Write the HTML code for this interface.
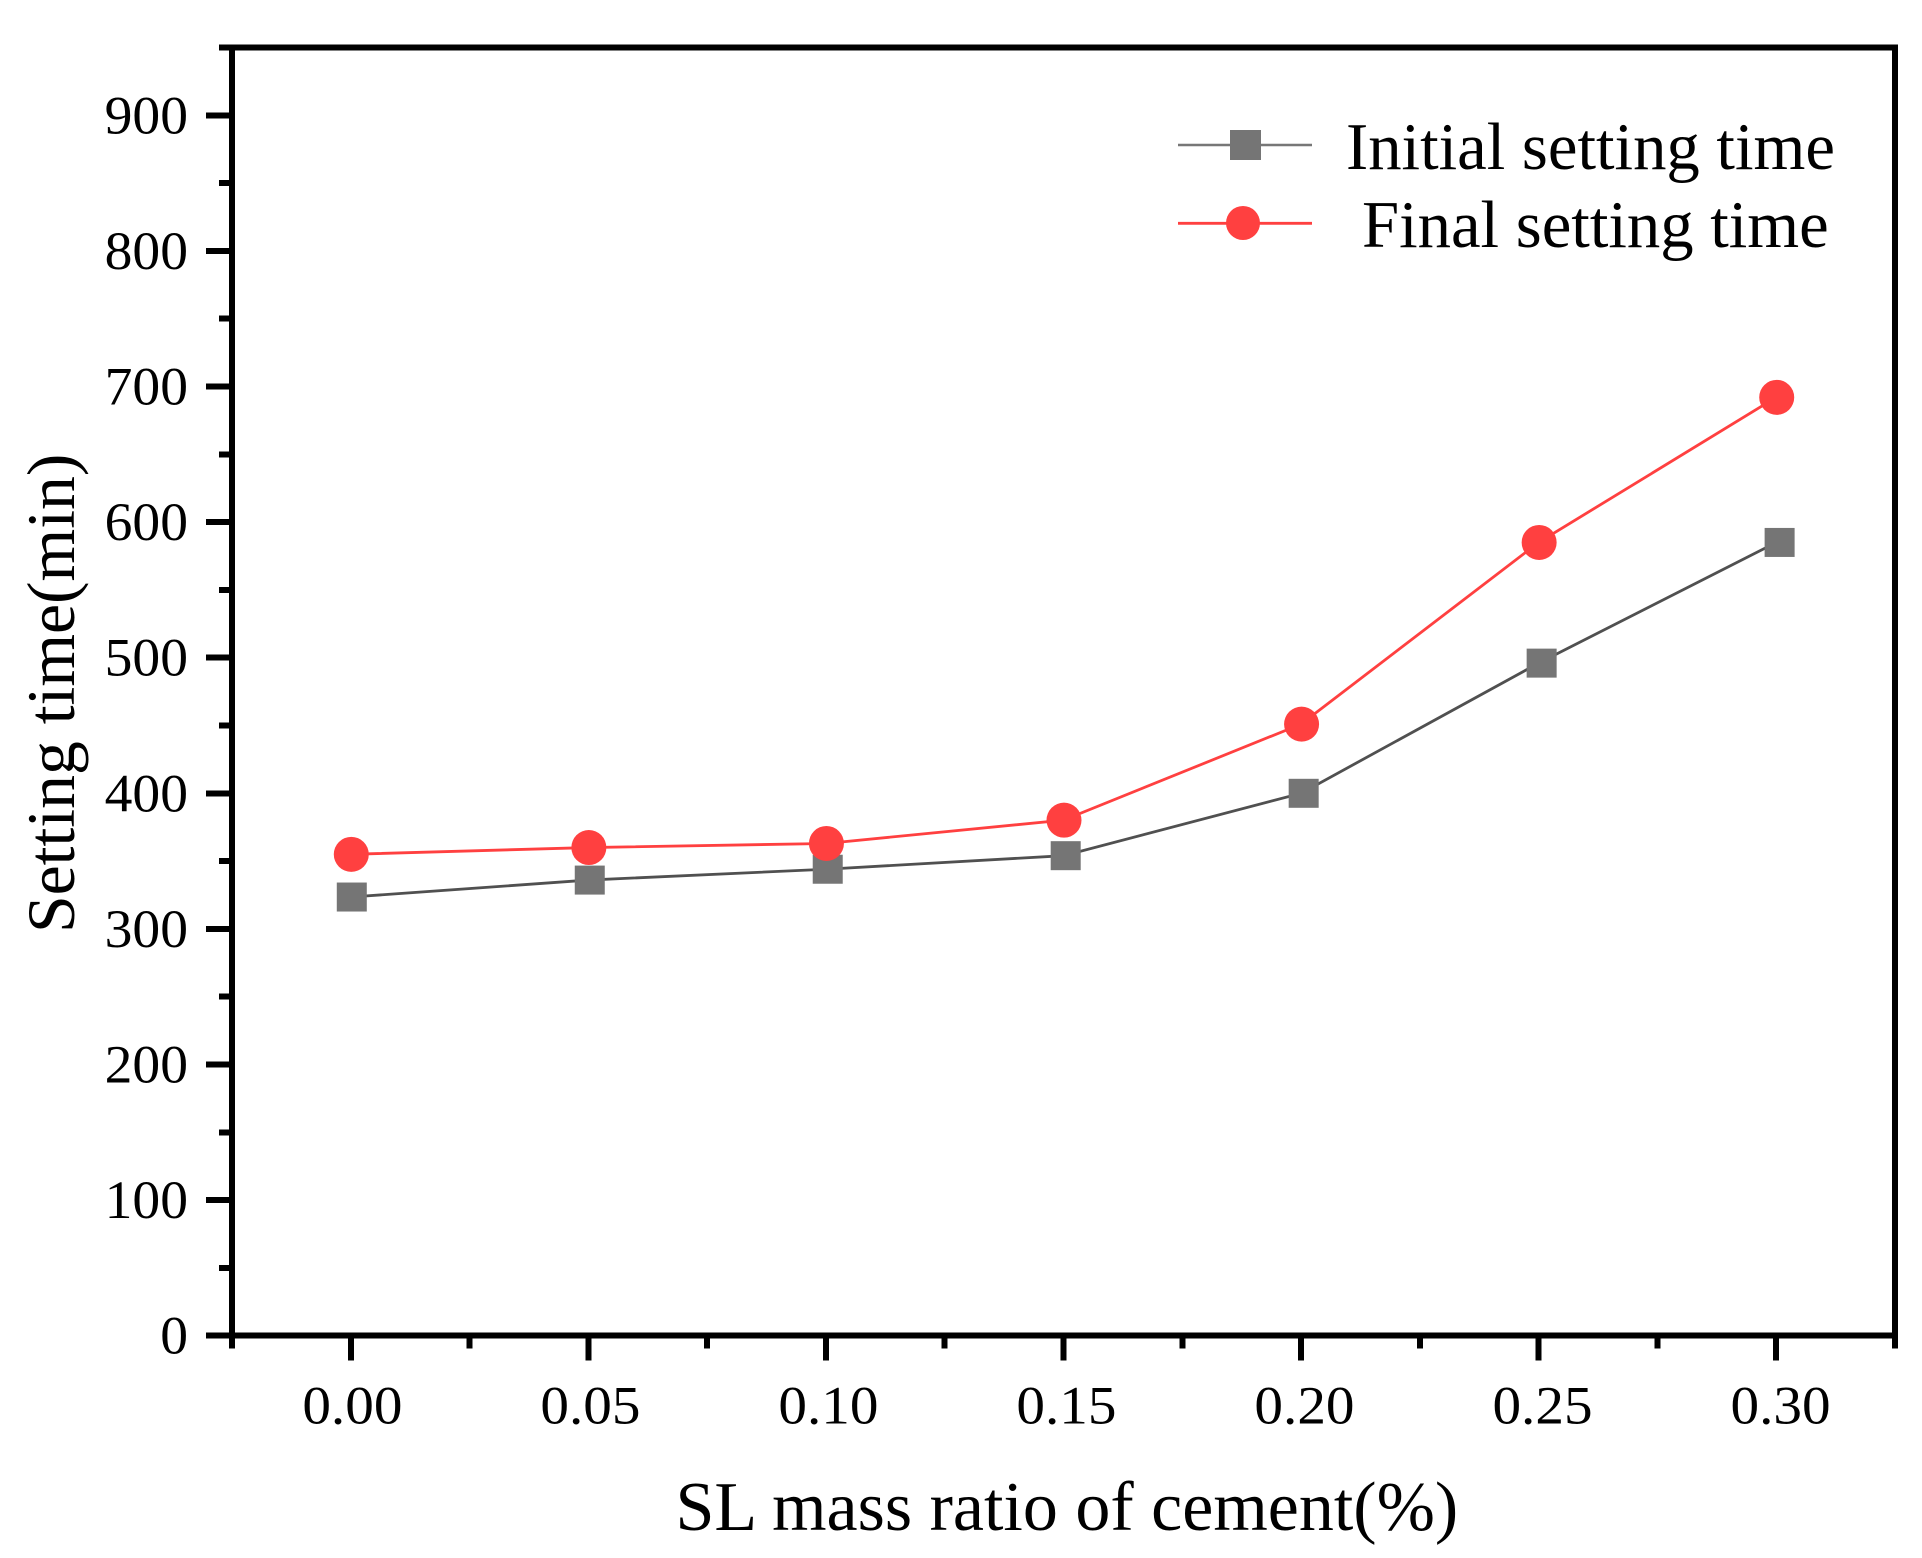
<!DOCTYPE html>
<html lang="en">
<head>
<meta charset="utf-8">
<title>Setting time vs SL mass ratio</title>
<style>
  html, body { margin: 0; padding: 0; background: #fff; }
  svg { display: block; font-family: "Liberation Serif", serif; fill: #000; }
</style>
</head>
<body>
<svg id="chart" xmlns="http://www.w3.org/2000/svg" width="1922" height="1558" viewBox="0 0 1922 1558">
  <rect x="0" y="0" width="1922" height="1558" fill="#ffffff"/>
  <g id="series-layer"></g>
  <g id="axes-layer"></g>
  <text x="675.5" y="1530" font-size="70">SL mass ratio of cement(%)</text>
  <text transform="translate(74 933) rotate(-90)" font-size="67.7">Setting time(min)</text>
  <g>
    <g>
      <line x1="1178" y1="145" x2="1312" y2="145" stroke="#777777" stroke-width="2.4"/>
      <rect x="1230" y="130" width="31" height="30" fill="#757575"/>
      <text x="1346" y="169" font-size="66.7">Initial setting time</text>
    </g>
    <g>
      <line x1="1178" y1="223.3" x2="1312" y2="223.3" stroke="#ff4040" stroke-width="2.8"/>
      <circle cx="1243" cy="223" r="17" fill="#ff4040"/>
      <text x="1362" y="247" font-size="66.7">Final setting time</text>
    </g>
  </g>
</svg>
<script>
const xCategories = [0.00, 0.05, 0.10, 0.15, 0.20, 0.25, 0.30];
const initialSettingTime = [323.5, 336, 344, 354, 400, 496, 585];
const finalSettingTime = [355, 360, 363, 380.2, 451, 585, 692];
const xTickLabels = ["0.00", "0.05", "0.10", "0.15", "0.20", "0.25", "0.30"];
const yTickValues = [0, 100, 200, 300, 400, 500, 600, 700, 800, 900];

const SVG_NS = "http://www.w3.org/2000/svg";
const plot = { left: 232, right: 1895, top: 47.5, bottom: 1335.7 };
const xDomain = [-0.025, 0.325];
const yDomain = [0, 950];

function xScale(v) {
  return plot.left + (v - xDomain[0]) / (xDomain[1] - xDomain[0]) * (plot.right - plot.left);
}
function yScale(v) {
  return plot.bottom - (v - yDomain[0]) / (yDomain[1] - yDomain[0]) * (plot.bottom - plot.top);
}
function make(tag, parent) {
  const el = document.createElementNS(SVG_NS, tag);
  parent.appendChild(el);
  return el;
}
function setLine(el, x1, y1, x2, y2, width) {
  el.setAttribute("x1", x1);
  el.setAttribute("y1", y1);
  el.setAttribute("x2", x2);
  el.setAttribute("y2", y2);
  el.setAttribute("stroke", "#000");
  el.setAttribute("stroke-width", width);
  el.setAttribute("shape-rendering", "crispEdges");
}

const axes = document.getElementById("axes-layer");
const series = document.getElementById("series-layer");
const spineW = 6;
const xLabelStretch = 1.05;
const yLabelStretch = 1.02;

// frame
const spineTop = make("line", axes);


setLine(spineTop, plot.left - 13, plot.top, plot.right + 3, plot.top, spineW);

const spineLeft = make("line", axes);


setLine(spineLeft, plot.left, plot.top, plot.left, plot.bottom + 13, spineW);

const spineRight = make("line", axes);


setLine(spineRight, plot.right, plot.top, plot.right, plot.bottom + 13, spineW);

const spineBottom = make("line", axes);


setLine(spineBottom, plot.left - 26, plot.bottom, plot.right + 3, plot.bottom, spineW);

// y ticks
yTickValues.forEach(function (v) {
  const t = make("line", axes);
  
  
  setLine(t, plot.left - 26, yScale(v), plot.left, yScale(v), spineW);

  const m = make("line", axes);
  
  
  setLine(m, plot.left - 13, yScale(v + 50), plot.left, yScale(v + 50), spineW);

  const label = make("text", axes);
  
  
  label.setAttribute("transform", "translate(188 " + (yScale(v) + 18) + ") scale(" + yLabelStretch + " 1)");
  label.setAttribute("text-anchor", "end");
  label.setAttribute("font-size", "54.5");
  label.textContent = String(v);
});

// x ticks
xCategories.forEach(function (v, i) {
  const t = make("line", axes);
  
  
  setLine(t, xScale(v), plot.bottom, xScale(v), plot.bottom + 25, spineW);

  const label = make("text", axes);
  
  
  label.setAttribute("transform", "translate(" + (xScale(v) + 1.6 + i * 0.45) + " 1423.5) scale(" + xLabelStretch + " 1)");
  label.setAttribute("text-anchor", "middle");
  label.setAttribute("font-size", "54.5");
  label.textContent = xTickLabels[i];

  if (i < xCategories.length - 1) {
    const mid = (v + xCategories[i + 1]) / 2;
    const m = make("line", axes);
    
    
    setLine(m, xScale(mid), plot.bottom, xScale(mid), plot.bottom + 13, spineW);
  }
});

function polyPoints(values) {
  return values.map(function (v, i) {
    return xScale(xCategories[i]) + "," + yScale(v);
  }).join(" ");
}

// series: initial setting time
const initialLine = make("polyline", series);


initialLine.setAttribute("points", polyPoints(initialSettingTime));
initialLine.setAttribute("fill", "none");
initialLine.setAttribute("stroke", "#505050");
initialLine.setAttribute("stroke-width", "2.8");

initialSettingTime.forEach(function (v, i) {
  const r = make("rect", series);
  
  
  r.setAttribute("x", xScale(xCategories[i]) + 1 + i * 0.4 - 15);
  r.setAttribute("y", yScale(v) - 14.5);
  r.setAttribute("width", 30);
  r.setAttribute("height", 29);
  r.setAttribute("fill", "#757575");
});

// series: final setting time
const finalLine = make("polyline", series);


finalLine.setAttribute("points", polyPoints(finalSettingTime));
finalLine.setAttribute("fill", "none");
finalLine.setAttribute("stroke", "#ff4040");
finalLine.setAttribute("stroke-width", "2.8");

finalSettingTime.forEach(function (v, i) {
  const c = make("circle", series);
  
  
  c.setAttribute("cx", xScale(xCategories[i]) + 0.5);
  c.setAttribute("cy", yScale(v));
  c.setAttribute("r", 17.5);
  c.setAttribute("fill", "#ff4040");
});
</script>
</body>
</html>
